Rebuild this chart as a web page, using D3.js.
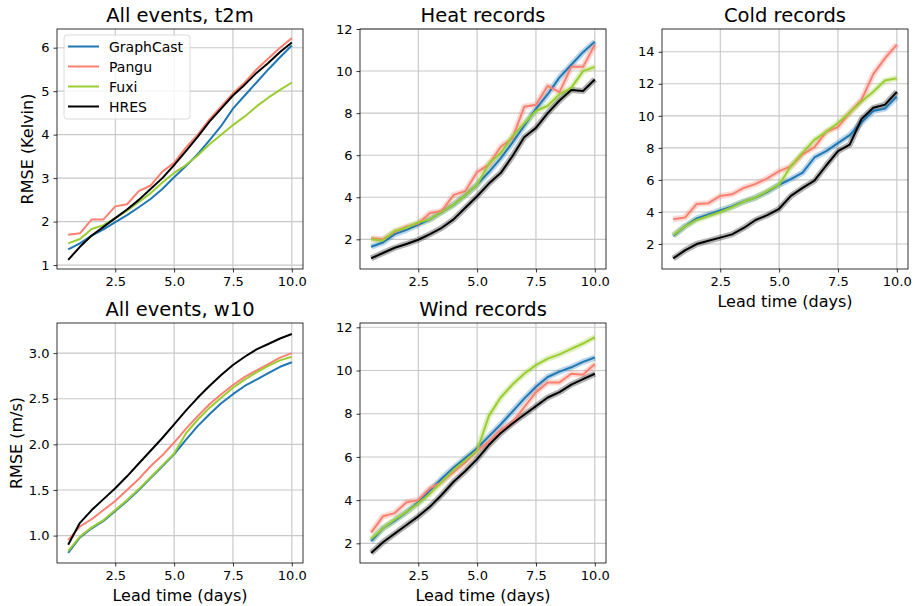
<!DOCTYPE html>
<html>
<head>
<meta charset="utf-8">
<script src="https://cdn.jsdelivr.net/npm/d3@7"></script>
<style>
  body { margin: 0; background: #fff; }
  svg { font-family: "DejaVu Sans", sans-serif; }
</style>
</head>
<body>
<div id="chart"></div>
<script>
// lead time in days
var leadTimes = [0.5,1,1.5,2,2.5,3,3.5,4,4.5,5,5.5,6,6.5,7,7.5,8,8.5,9,9.5,10];
var models = ["GraphCast", "Pangu", "Fuxi", "HRES"];
var modelColors = ["#1f77b4", "#fa8072", "#9acd32", "#000000"];
var xTicks = [2.5, 5.0, 7.5, 10.0];

// All events, t2m
var t2mGraphCast = [1.36,1.5,1.68,1.82,1.99,2.15,2.33,2.52,2.75,3.02,3.28,3.55,3.87,4.2,4.6,4.9,5.2,5.5,5.78,6.05];
var t2mPangu     = [1.7,1.73,2.05,2.05,2.35,2.4,2.7,2.83,3.15,3.35,3.7,4.0,4.35,4.65,4.95,5.2,5.5,5.75,6.0,6.22];
var t2mFuxi      = [1.5,1.6,1.83,1.92,2.08,2.25,2.45,2.65,2.9,3.12,3.3,3.52,3.78,4.0,4.22,4.42,4.65,4.85,5.03,5.2];
var t2mHRES      = [1.12,1.42,1.68,1.88,2.08,2.28,2.5,2.75,3.0,3.3,3.62,3.95,4.3,4.6,4.9,5.15,5.42,5.65,5.9,6.12];

// Heat records
var heatGraphCast = [1.65,1.85,2.25,2.45,2.7,2.95,3.3,3.65,4.1,4.6,5.2,5.85,6.6,7.4,8.2,8.9,9.7,10.3,10.9,11.4];
var heatPangu     = [2.05,2.0,2.35,2.6,2.75,3.25,3.35,4.1,4.3,5.2,5.55,6.4,6.8,8.3,8.4,9.3,9.0,10.2,10.2,11.25];
var heatFuxi      = [2.0,1.95,2.4,2.55,2.8,2.95,3.3,3.65,4.1,4.6,5.6,6.1,6.9,7.5,8.1,8.35,8.9,9.2,10.0,10.2];
var heatHRES      = [1.1,1.35,1.6,1.78,1.98,2.25,2.55,2.95,3.5,4.05,4.65,5.15,5.95,6.85,7.3,8.0,8.6,9.1,9.05,9.6];

// Cold records
var coldGraphCast = [2.5,3.1,3.6,3.85,4.1,4.35,4.65,4.9,5.25,5.7,6.05,6.45,7.4,7.8,8.3,8.8,9.6,10.3,10.45,11.2];
var coldPangu     = [3.55,3.65,4.5,4.55,5.0,5.1,5.5,5.75,6.1,6.55,6.85,7.6,8.05,9.0,9.3,10.2,11.0,12.6,13.6,14.45];
var coldFuxi      = [2.55,3.1,3.5,3.75,4.0,4.3,4.65,4.9,5.3,5.7,6.85,7.7,8.5,9.0,9.55,10.2,10.9,11.5,12.2,12.35];
var coldHRES      = [1.1,1.6,2.0,2.2,2.4,2.6,3.0,3.5,3.8,4.2,5.0,5.5,5.95,6.9,7.8,8.2,9.8,10.5,10.7,11.5];

// All events, w10
var w10GraphCast = [0.81,0.98,1.08,1.16,1.27,1.38,1.5,1.63,1.76,1.89,2.05,2.2,2.33,2.45,2.55,2.64,2.71,2.78,2.85,2.9];
var w10Pangu     = [0.95,1.1,1.18,1.28,1.38,1.5,1.62,1.76,1.88,2.02,2.17,2.31,2.44,2.55,2.65,2.74,2.81,2.88,2.95,3.0];
var w10Fuxi      = [0.83,0.99,1.09,1.17,1.28,1.39,1.51,1.64,1.77,1.9,2.12,2.27,2.4,2.51,2.62,2.71,2.79,2.86,2.92,2.96];
var w10HRES      = [0.9,1.14,1.28,1.4,1.52,1.65,1.79,1.93,2.07,2.22,2.37,2.51,2.64,2.76,2.87,2.96,3.04,3.1,3.16,3.21];

// Wind records
var windGraphCast = [2.1,2.7,3.05,3.45,3.9,4.45,5.0,5.5,5.95,6.4,6.95,7.5,8.1,8.7,9.25,9.7,9.95,10.15,10.4,10.6];
var windPangu     = [2.5,3.25,3.4,3.9,4.0,4.55,4.85,5.3,5.75,6.3,6.7,7.25,7.6,8.3,9.0,9.45,9.45,9.85,9.8,10.3];
var windFuxi      = [2.2,2.7,3.1,3.45,3.85,4.3,4.85,5.4,5.85,6.3,7.9,8.75,9.35,9.85,10.25,10.55,10.75,11.0,11.25,11.55];
var windHRES      = [1.55,2.05,2.45,2.85,3.25,3.7,4.25,4.85,5.35,5.9,6.55,7.1,7.55,7.95,8.35,8.75,9.0,9.35,9.6,9.85];

var panels = [
  { title: "All events, t2m", col: 0, row: 0, yDomain: [0.91, 6.43], yTicks: [1,2,3,4,5,6], fmt: d3.format("d"),
    series: [t2mGraphCast, t2mPangu, t2mFuxi, t2mHRES], ylabel: "RMSE (Kelvin)", ylabelX: -24, legend: true, band: false },
  { title: "Heat records", col: 1, row: 0, yDomain: [0.59, 12.0], yTicks: [2,4,6,8,10,12], fmt: d3.format("d"),
    series: [heatGraphCast, heatPangu, heatFuxi, heatHRES], band: true },
  { title: "Cold records", col: 2, row: 0, yDomain: [0.44, 15.42], yTicks: [2,4,6,8,10,12,14], fmt: d3.format("d"),
    series: [coldGraphCast, coldPangu, coldFuxi, coldHRES], xlabel: true, band: true },
  { title: "All events, w10", col: 0, row: 1, yDomain: [0.70, 3.33], yTicks: [1.0,1.5,2.0,2.5,3.0], fmt: d3.format(".1f"),
    series: [w10GraphCast, w10Pangu, w10Fuxi, w10HRES], ylabel: "RMSE (m/s)", ylabelX: -35, xlabel: true, band: false },
  { title: "Wind records", col: 1, row: 1, yDomain: [1.09, 12.2], yTicks: [2,4,6,8,10,12], fmt: d3.format("d"),
    series: [windGraphCast, windPangu, windFuxi, windHRES], xlabel: true, band: true }
];

var colLeft = [57, 360, 662];
var rowTop = [29, 323];
var pw = 246, ph = 240;

var svg = d3.select("#chart").append("svg")
  .attr("width", 915)
  .attr("height", 606);

panels.forEach(function(p) {
  var g = svg.append("g")
    .attr("transform", "translate(" + colLeft[p.col] + "," + rowTop[p.row] + ")");

  var x = d3.scaleLinear().domain([0.025, 10.475]).range([0, pw]);
  var y = d3.scaleLinear().domain(p.yDomain).range([ph, 0]);

  // grid
  g.selectAll(".vgrid").data(xTicks).enter().append("line")
    .attr("x1", function(d) { return x(d); })
    .attr("x2", function(d) { return x(d); })
    .attr("y1", 0).attr("y2", ph)
    .attr("stroke", "#b0b0b0").attr("stroke-width", 0.8);
  g.selectAll(".hgrid").data(p.yTicks).enter().append("line")
    .attr("y1", function(d) { return y(d); })
    .attr("y2", function(d) { return y(d); })
    .attr("x1", 0).attr("x2", pw)
    .attr("stroke", "#c8c8c8").attr("stroke-width", 1.1);

  var line = d3.line()
    .x(function(d, i) { return x(leadTimes[i]); })
    .y(function(d) { return y(d); });

  if (p.band) {
    p.series.forEach(function(s, k) {
      g.append("path")
        .attr("d", line(s))
        .attr("fill", "none")
        .attr("stroke", modelColors[k])
        .attr("stroke-opacity", 0.3)
        .attr("stroke-width", 6)
        .attr("stroke-linejoin", "round");
    });
  }

  p.series.forEach(function(s, k) {
    g.append("path")
      .attr("d", line(s))
      .attr("fill", "none")
      .attr("stroke", modelColors[k])
      .attr("stroke-width", 2)
      .attr("stroke-linejoin", "round");
  });

  // axes
  var xAxis = g.append("g")
    .attr("transform", "translate(0," + ph + ")")
    .call(d3.axisBottom(x).tickValues(xTicks).tickFormat(d3.format(".1f")).tickSize(3.5).tickPadding(4));
  var yAxis = g.append("g")
    .call(d3.axisLeft(y).tickValues(p.yTicks).tickFormat(p.fmt).tickSize(3.5).tickPadding(4));
  [xAxis, yAxis].forEach(function(a) {
    a.select(".domain").remove();
    a.selectAll("text").attr("font-size", 13).attr("fill", "#000")
      .attr("font-family", "DejaVu Sans");
    a.selectAll("line").attr("stroke", "#000").attr("stroke-width", 0.8);
  });

  g.append("rect")
    .attr("width", pw).attr("height", ph)
    .attr("fill", "none")
    .attr("stroke", "#000")
    .attr("stroke-width", 0.8);

  g.append("text")
    .attr("x", pw / 2).attr("y", -7)
    .attr("text-anchor", "middle")
    .attr("font-size", 19.5)
    .text(p.title);

  if (p.ylabel) {
    g.append("text")
      .attr("transform", "translate(" + p.ylabelX + "," + (ph / 2) + ") rotate(-90)")
      .attr("text-anchor", "middle")
      .attr("font-size", 16)
      .text(p.ylabel);
  }
  if (p.xlabel) {
    g.append("text")
      .attr("x", pw / 2).attr("y", ph + 38)
      .attr("text-anchor", "middle")
      .attr("font-size", 16)
      .text("Lead time (days)");
  }

  if (p.legend) {
    var lg = g.append("g").attr("transform", "translate(7,6)");
    lg.append("rect")
      .attr("width", 126).attr("height", 84)
      .attr("rx", 3)
      .attr("fill", "#fff").attr("fill-opacity", 0.8)
      .attr("stroke", "#d0d0d0").attr("stroke-width", 0.8);
    models.forEach(function(m, k) {
      var yy = 11.5 + k * 20;
      lg.append("line")
        .attr("x1", 4).attr("x2", 35)
        .attr("y1", yy).attr("y2", yy)
        .attr("stroke", modelColors[k]).attr("stroke-width", 2);
      lg.append("text")
        .attr("x", 45).attr("y", yy + 5)
        .attr("font-size", 14)
        .text(m);
    });
  }
});
</script>
</body>
</html>
